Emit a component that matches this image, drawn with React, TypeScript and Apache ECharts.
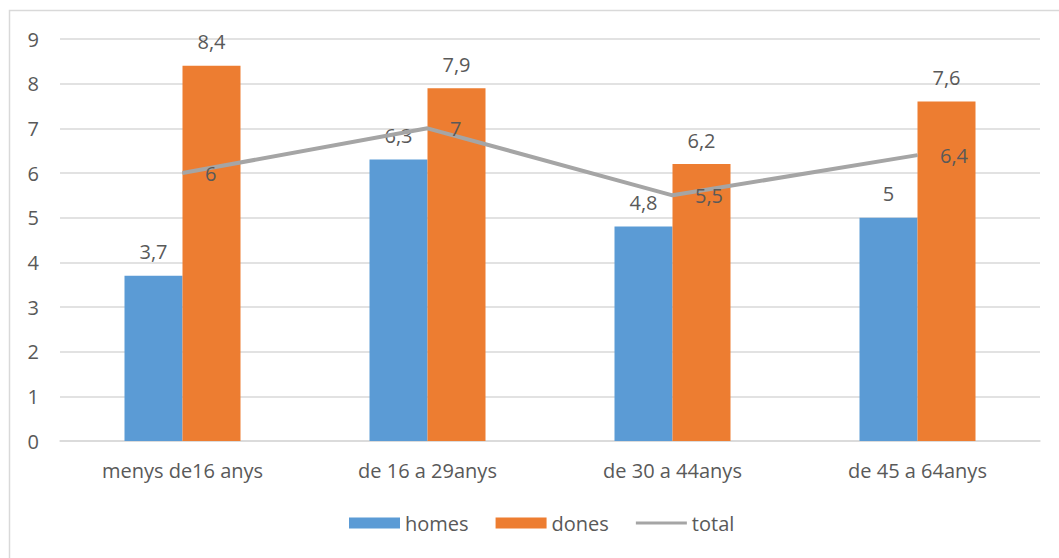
import React, { useEffect, useRef } from "react";
import * as echarts from "echarts";

const categories = ["menys de16 anys", "de 16 a 29anys", "de 30 a 44anys", "de 45 a 64anys"];
const homes = [3.7, 6.3, 4.8, 5];
const dones = [8.4, 7.9, 6.2, 7.6];
const total = [6, 7, 5.5, 6.4];
const yTicks = { min: 0, max: 9, interval: 1 };

const FONT = "Open Sans";
const TXT = "#595959";
const FS = 20;
const fmt = (p: any) => String(p.value).replace(".", ",");

export default function App() {
  const ref = useRef<HTMLDivElement>(null);
  useEffect(() => {
    const chart = echarts.init(ref.current!, null, { renderer: "svg" });
    chart.setOption({
      animation: false,
      backgroundColor: "#fff",
      textStyle: { fontFamily: FONT, color: TXT },
      graphic: [
        {
          type: "rect",
          shape: { x: 9.5, y: 10.5, width: 1100, height: 600 },
          style: { fill: "none", stroke: "#d9d9d9", lineWidth: 1.5 },
          silent: true,
        },
      ],
      grid: { left: 60, right: 19, top: 39, bottom: 117 },
      legend: {
        bottom: 20,
        left: 344,
        itemWidth: 51,
        itemHeight: 11,
        itemGap: 27,
        icon: "rect",
        textStyle: { fontFamily: FONT, color: TXT, fontSize: FS },
        data: [
          { name: "homes", icon: "rect" },
          { name: "dones", icon: "rect" },
          { name: "total", icon: "path://M0,4 L51,4 L51,7 L0,7 Z", itemStyle: { color: "#A5A5A5", opacity: 1 } },
        ],
      },
      xAxis: {
        type: "category",
        data: categories,
        axisLine: { lineStyle: { color: "#d9d9d9", width: 1.5 } },
        axisTick: { show: false },
        axisLabel: { color: TXT, fontSize: FS, fontFamily: FONT, margin: 19 },
      },
      yAxis: {
        type: "value",
        min: yTicks.min,
        max: yTicks.max,
        interval: yTicks.interval,
        axisLine: { show: false },
        axisTick: { show: false },
        axisLabel: { color: TXT, fontSize: FS, fontFamily: FONT, margin: 21 },
        splitLine: { lineStyle: { color: "#d9d9d9", width: 1.5 } },
      },
      series: [
        {
          name: "homes",
          type: "bar",
          data: homes,
          barWidth: 58,
          barGap: "0%",
          itemStyle: { color: "#5B9BD5" },
          label: { show: true, position: "top", distance: 14, color: TXT, fontSize: FS, fontFamily: FONT, formatter: fmt },
        },
        {
          name: "dones",
          type: "bar",
          data: dones,
          barWidth: 58,
          barGap: "0%",
          itemStyle: { color: "#ED7D31" },
          label: { show: true, position: "top", distance: 14, color: TXT, fontSize: FS, fontFamily: FONT, formatter: fmt },
        },
        {
          name: "total",
          type: "line",
          data: total,
          showSymbol: true,
          symbol: "circle",
          symbolSize: 1,
          lineStyle: { color: "#A5A5A5", width: 4 },
          itemStyle: { color: "#A5A5A5" },
          z: 3,
          labelLayout: { hideOverlap: false },
          label: { show: true, position: "right", distance: 22, color: TXT, fontSize: FS, fontFamily: FONT, formatter: fmt },
        },
      ],
    });
    return () => chart.dispose();
  }, []);
  return <div ref={ref} style={{ position: "absolute", left: 0, top: 0, width: 1059, height: 558 }} />;
}
